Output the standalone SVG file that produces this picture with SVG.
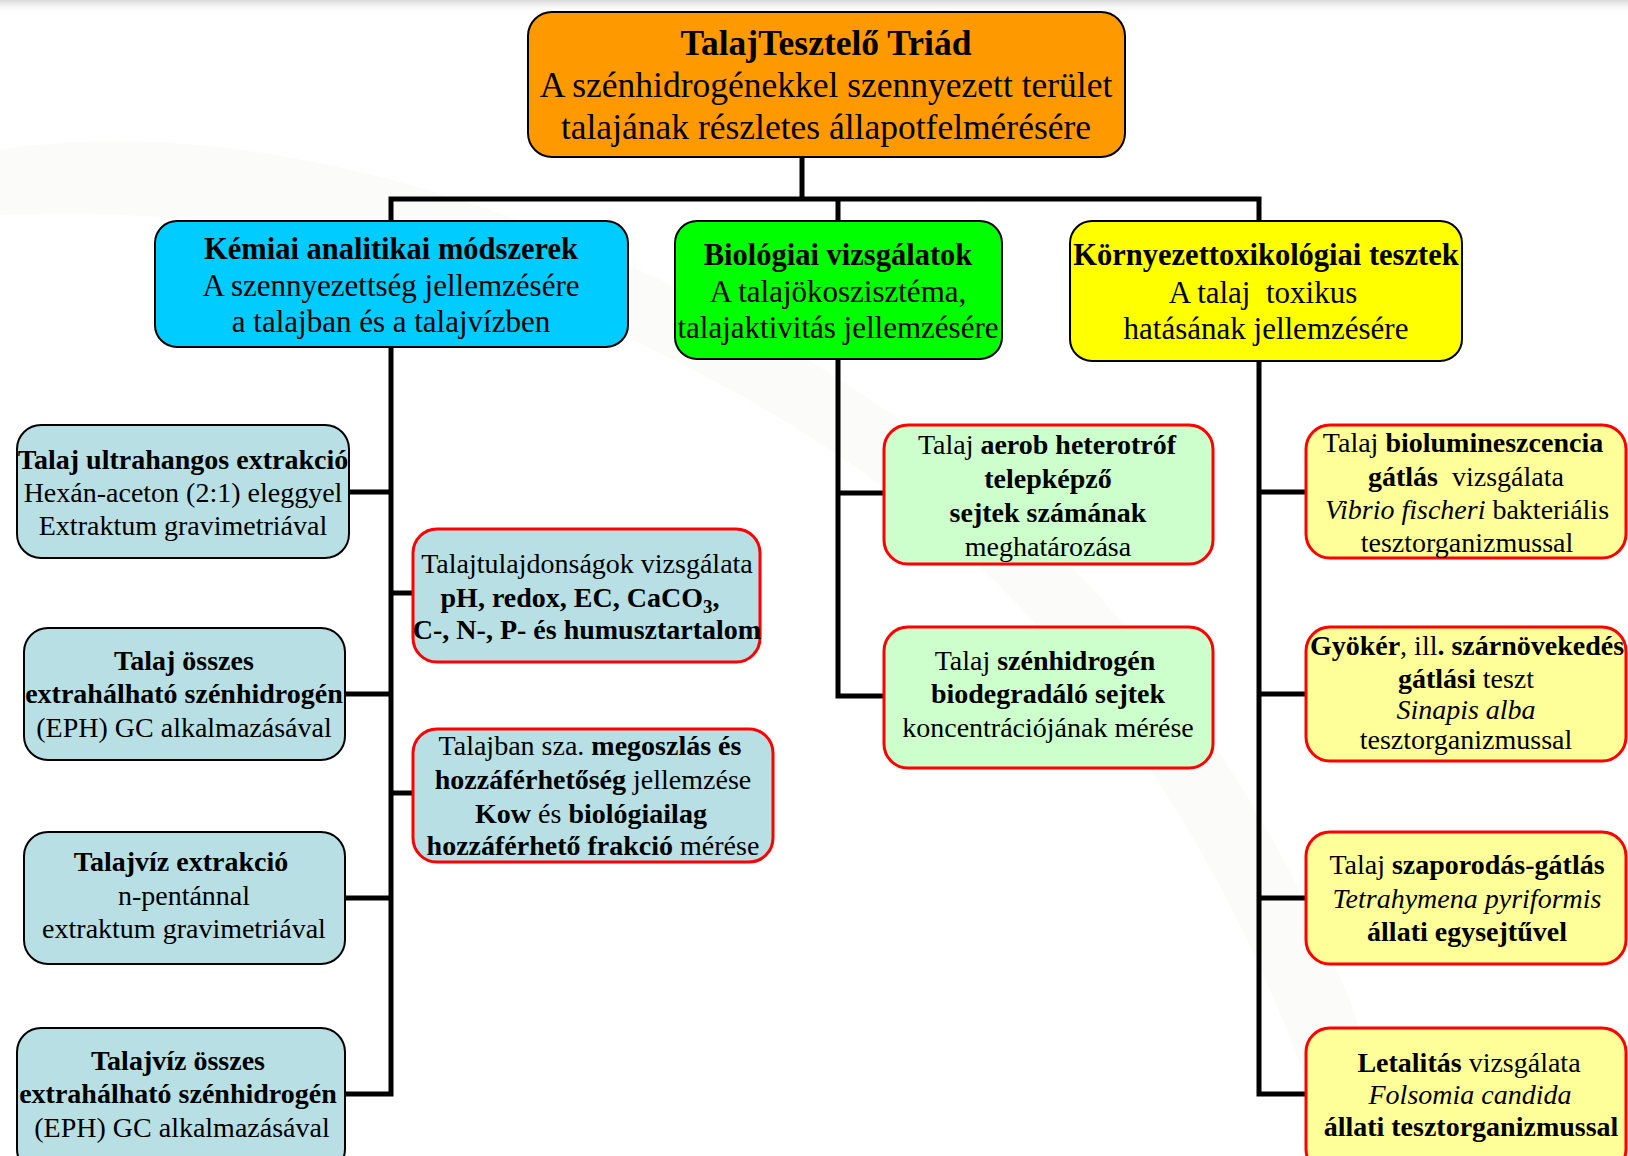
<svg xmlns="http://www.w3.org/2000/svg" width="1628" height="1156" viewBox="0 0 1628 1156">
<defs>
<linearGradient id="topshade" x1="0" y1="0" x2="0" y2="1">
<stop offset="0" stop-color="#d8d8d8"/>
<stop offset="1" stop-color="#ffffff" stop-opacity="0"/>
</linearGradient>
</defs>
<style>
text{font-family:"Liberation Serif","Times New Roman",serif;text-anchor:middle;fill:#000;white-space:pre}
.s35{font-size:35.5px}
.s31{font-size:31px}
.s30{font-size:30.5px}
.s28{font-size:28px}
.b{font-weight:bold}
.i{font-style:italic}
.blk{stroke:#000;stroke-width:2}
.red{stroke:#ff0000;stroke-width:3}
.conn{fill:none;stroke:#000;stroke-width:5;stroke-linejoin:miter}
</style>
<rect x="0" y="0" width="1628" height="1156" fill="#ffffff"/>
<rect x="0" y="0" width="1628" height="14" fill="url(#topshade)"/>
<path d="M0,150 C250,110 600,210 900,420 C1100,560 1250,760 1350,1000 L1400,1156 L1330,1156 C1250,880 1080,620 860,470 C600,290 300,200 0,215 Z" fill="#f3f3ef" opacity="0.35"/>
<g id="connectors">
<polyline class="conn" points="802,157 802,199"/>
<polyline class="conn" points="391,221 391,199 1259,199 1259,221"/>
<polyline class="conn" points="838,199 838,221"/>
<polyline class="conn" points="391,347 391,1094 345,1094"/>
<polyline class="conn" points="349,492 391,492"/>
<polyline class="conn" points="345,694 391,694"/>
<polyline class="conn" points="345,898 391,898"/>
<polyline class="conn" points="391,593 413,593"/>
<polyline class="conn" points="391,793 413,793"/>
<polyline class="conn" points="838,359 838,696 884,696"/>
<polyline class="conn" points="838,493 884,493"/>
<polyline class="conn" points="1259,362 1259,1094 1306,1094"/>
<polyline class="conn" points="1259,492 1306,492"/>
<polyline class="conn" points="1259,694 1306,694"/>
<polyline class="conn" points="1259,898 1306,898"/>
</g>
<g id="root">
<rect class="blk" x="528" y="12" width="597" height="145" rx="24" fill="#ff9900"/>
<text class="s35 b" x="826" y="55">TalajTesztelő Triád</text>
<text class="s35" x="826" y="97">A szénhidrogénekkel szennyezett terület</text>
<text class="s35" x="826" y="139">talajának részletes állapotfelmérésére</text>
</g>
<g id="kemiai">
<rect class="blk" x="155" y="221" width="473" height="126" rx="22" fill="#00ccff"/>
<text class="s30 b" x="391" y="259">Kémiai analitikai módszerek</text>
<text class="s31" x="391" y="296">A szennyezettség jellemzésére</text>
<text class="s31" x="391" y="332">a talajban és a talajvízben</text>
</g>
<g id="biologiai">
<rect class="blk" x="675" y="221" width="327" height="138" rx="22" fill="#00ff00"/>
<text class="s30 b" x="838" y="265">Biológiai vizsgálatok</text>
<text class="s31" x="838" y="302">A talajökoszisztéma,</text>
<text class="s31" x="838" y="338">talajaktivitás jellemzésére</text>
</g>
<g id="kornyezet">
<rect class="blk" x="1070" y="221" width="392" height="140" rx="22" fill="#ffff00"/>
<text class="s30 b" x="1266" y="265">Környezettoxikológiai tesztek</text>
<text class="s31" x="1263" y="303">A talaj  toxikus</text>
<text class="s31" x="1266" y="339">hatásának jellemzésére</text>
</g>
<g id="ultrahangos">
<rect class="blk" x="17" y="425" width="332" height="133" rx="24" fill="#b8dfe3"/>
<text class="s28 b" x="183" y="469">Talaj ultrahangos extrakció</text>
<text class="s28" x="183" y="502">Hexán-aceton (2:1) eleggyel</text>
<text class="s28" x="183" y="535">Extraktum gravimetriával</text>
</g>
<g id="talaj-eph">
<rect class="blk" x="24" y="628" width="321" height="132" rx="24" fill="#b8dfe3"/>
<text class="s28 b" x="184" y="670">Talaj összes</text>
<text class="s28 b" x="184" y="703">extrahálható szénhidrogén</text>
<text class="s28" x="184" y="737">(EPH) GC alkalmazásával</text>
</g>
<g id="talajviz-extrakcio">
<rect class="blk" x="24" y="832" width="321" height="132" rx="24" fill="#b8dfe3"/>
<text class="s28 b" x="181" y="871">Talajvíz extrakció</text>
<text class="s28" x="184" y="905">n-pentánnal</text>
<text class="s28" x="184" y="938">extraktum gravimetriával</text>
</g>
<g id="talajviz-eph">
<rect class="blk" x="17" y="1028" width="328" height="145" rx="24" fill="#b8dfe3"/>
<text class="s28 b" x="178" y="1070">Talajvíz összes</text>
<text class="s28 b" x="178" y="1103">extrahálható szénhidrogén</text>
<text class="s28" x="182" y="1137">(EPH) GC alkalmazásával</text>
</g>
<g id="talajtulajdonsagok">
<rect class="red" x="413" y="529" width="347" height="133" rx="24" fill="#b8dfe3"/>
<text class="s28" x="587" y="573">Talajtulajdonságok vizsgálata</text>
<text class="s28 b" x="580" y="607">pH, redox, EC, CaCO<tspan font-size="19" dy="6">3</tspan><tspan dy="-6">,</tspan></text>
<text class="s28 b" x="587" y="639">C-, N-, P- és humusztartalom</text>
</g>
<g id="megoszlas">
<rect class="red" x="413" y="729" width="360" height="133" rx="24" fill="#b8dfe3"/>
<text class="s28" x="590" y="755">Talajban sza. <tspan class="b">megoszlás és</tspan></text>
<text class="s28" x="593" y="789"><tspan class="b">hozzáférhetőség</tspan> jellemzése</text>
<text class="s28" x="591" y="823"><tspan class="b">Kow</tspan> és <tspan class="b">biológiailag</tspan></text>
<text class="s28" x="593" y="855"><tspan class="b">hozzáférhető frakció</tspan> mérése</text>
</g>
<g id="aerob">
<rect class="red" x="884" y="425" width="329" height="139" rx="24" fill="#ccffcc"/>
<text class="s28" x="1047" y="454">Talaj <tspan class="b">aerob heterotróf</tspan></text>
<text class="s28 b" x="1048" y="488">telepképző</text>
<text class="s28 b" x="1048" y="522">sejtek számának</text>
<text class="s28" x="1048" y="556">meghatározása</text>
</g>
<g id="biodegradalo">
<rect class="red" x="884" y="627" width="329" height="141" rx="24" fill="#ccffcc"/>
<text class="s28" x="1045" y="670">Talaj <tspan class="b">szénhidrogén</tspan></text>
<text class="s28 b" x="1048" y="703">biodegradáló sejtek</text>
<text class="s28" x="1048" y="737">koncentrációjának mérése</text>
</g>
<g id="biolumineszcencia">
<rect class="red" x="1306" y="425" width="320" height="133" rx="24" fill="#ffff99"/>
<text class="s28" x="1463" y="452">Talaj <tspan class="b">biolumineszcencia</tspan></text>
<text class="s28" x="1466" y="486"><tspan class="b">gátlás</tspan>  vizsgálata</text>
<text class="s28" x="1467" y="519"><tspan class="i">Vibrio fischeri</tspan> bakteriális</text>
<text class="s28" x="1467" y="552">tesztorganizmussal</text>
</g>
<g id="gyoker">
<rect class="red" x="1306" y="627" width="320" height="134" rx="24" fill="#ffff99"/>
<text class="s28" x="1467" y="655"><tspan class="b">Gyökér</tspan>, ill<tspan class="b">. szárnövekedés</tspan></text>
<text class="s28" x="1466" y="688"><tspan class="b">gátlási</tspan> teszt</text>
<text class="s28 i" x="1466" y="719">Sinapis alba</text>
<text class="s28" x="1466" y="749">tesztorganizmussal</text>
</g>
<g id="szaporodas">
<rect class="red" x="1306" y="832" width="320" height="132" rx="24" fill="#ffff99"/>
<text class="s28" x="1467" y="874">Talaj <tspan class="b">szaporodás-gátlás</tspan></text>
<text class="s28 i" x="1467" y="908">Tetrahymena pyriformis</text>
<text class="s28 b" x="1467" y="941">állati egysejtűvel</text>
</g>
<g id="letalitas">
<rect class="red" x="1306" y="1028" width="320" height="145" rx="24" fill="#ffff99"/>
<text class="s28" x="1469" y="1072"><tspan class="b">Letalitás</tspan> vizsgálata</text>
<text class="s28 i" x="1470" y="1104">Folsomia candida</text>
<text class="s28 b" x="1471" y="1136">állati tesztorganizmussal</text>
</g>
</svg>
